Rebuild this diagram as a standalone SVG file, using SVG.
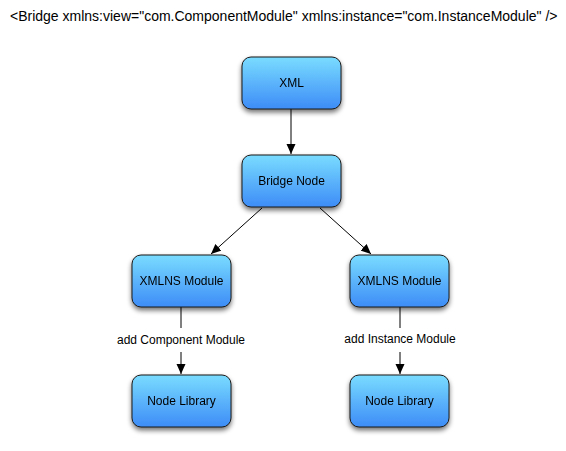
<svg xmlns="http://www.w3.org/2000/svg" width="566" height="451" viewBox="0 0 566 451">
<style>
text{font-family:"Liberation Sans",Arial,sans-serif;fill:#000}
.box{fill:url(#g);stroke:#1a1a1a;stroke-width:1}
.lbl{font-size:12px;text-anchor:middle}
.edge{stroke:#000;stroke-width:1;fill:none}
</style>
<defs>
<linearGradient id="g" x1="0" y1="0" x2="0" y2="1">
<stop offset="0" stop-color="#7adcff"/>
<stop offset="1" stop-color="#3d8cf7"/>
</linearGradient>
<filter id="sh" x="-20%" y="-20%" width="140%" height="150%">
<feGaussianBlur in="SourceAlpha" stdDeviation="2.5"/>
<feOffset dx="0" dy="3" result="b"/>
<feComponentTransfer><feFuncA type="linear" slope="0.55"/></feComponentTransfer>
<feMerge><feMergeNode/><feMergeNode in="SourceGraphic"/></feMerge>
</filter>
<marker id="a" viewBox="0 0 10 10" refX="10" refY="5" markerWidth="10" markerHeight="10" markerUnits="userSpaceOnUse" orient="auto">
<path d="M0,0.5 L10,5 L0,9.5 Z" fill="#000"/>
</marker>
</defs>
<text x="10" y="21" font-size="14">&lt;Bridge xmlns:view="com.ComponentModule" xmlns:instance="com.InstanceModule" /&gt;</text>
<g id="connectors">
<line class="edge" x1="291" y1="109" x2="291" y2="154" marker-end="url(#a)"/>
<line class="edge" x1="262" y1="208" x2="211" y2="254" marker-end="url(#a)"/>
<line class="edge" x1="320" y1="208" x2="371" y2="254" marker-end="url(#a)"/>
<line class="edge" x1="181" y1="307" x2="181" y2="328"/>
<line class="edge" x1="181" y1="352" x2="181" y2="374" marker-end="url(#a)"/>
<line class="edge" x1="400" y1="307" x2="400" y2="328"/>
<line class="edge" x1="400" y1="352" x2="400" y2="374" marker-end="url(#a)"/>
<text class="lbl" x="181" y="344">add Component Module</text>
<text class="lbl" x="400" y="343">add Instance Module</text>
</g>
<g id="xml" filter="url(#sh)"><rect class="box" x="242" y="57" width="99" height="52" rx="9"/><text class="lbl" x="291.5" y="87">XML</text></g>
<g id="bridge" filter="url(#sh)"><rect class="box" x="242" y="155" width="99" height="52" rx="9"/><text class="lbl" x="291.5" y="185">Bridge Node</text></g>
<g id="xmlns1" filter="url(#sh)"><rect class="box" x="132" y="255" width="99" height="52" rx="9"/><text class="lbl" x="181.5" y="285">XMLNS Module</text></g>
<g id="xmlns2" filter="url(#sh)"><rect class="box" x="350" y="255" width="99" height="52" rx="9"/><text class="lbl" x="399.5" y="285">XMLNS Module</text></g>
<g id="lib1" filter="url(#sh)"><rect class="box" x="132" y="375" width="99" height="52" rx="9"/><text class="lbl" x="181.5" y="405">Node Library</text></g>
<g id="lib2" filter="url(#sh)"><rect class="box" x="350" y="375" width="99" height="52" rx="9"/><text class="lbl" x="399.5" y="405">Node Library</text></g>
</svg>
